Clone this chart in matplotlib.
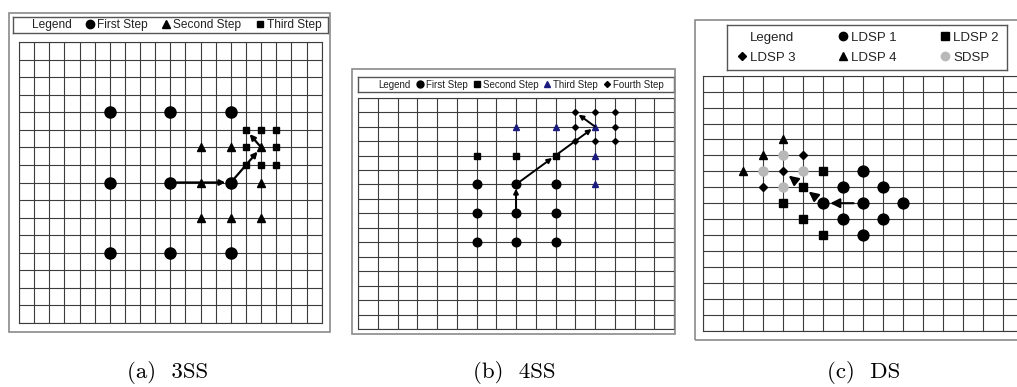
import matplotlib.pyplot as plt
from matplotlib.lines import Line2D
from matplotlib.patches import Rectangle

# search points on the block grid, (column, row) counted from the top-left corner
# (a) three step search
a_first_x = [6, 10, 14, 6, 10, 14, 6, 10, 14]
a_first_y = [4, 4, 4, 8, 8, 8, 12, 12, 12]
a_second_x = [12, 14, 16, 12, 16, 12, 14, 16]
a_second_y = [6, 6, 6, 8, 8, 10, 10, 10]
a_third_x = [15, 16, 17, 15, 17, 15, 16, 17]
a_third_y = [5, 5, 5, 6, 6, 7, 7, 7]
a_path = [(10, 8), (14, 8), (16, 6), (15, 5)]

# (b) four step search
b_first_x = [6, 8, 10, 6, 8, 10, 6, 8, 10]
b_first_y = [6, 6, 6, 8, 8, 8, 10, 10, 10]
b_second_x = [6, 8, 10]
b_second_y = [4, 4, 4]
b_third_x = [8, 10, 12, 12, 12]
b_third_y = [2, 2, 2, 4, 6]
b_fourth_x = [11, 12, 13, 11, 13, 11, 12, 13]
b_fourth_y = [1, 1, 1, 2, 2, 3, 3, 3]
b_path = [(8, 8), (8, 6), (10, 4), (12, 2), (11, 1)]

# (c) diamond search
c_ldsp1_x = [8, 7, 9, 6, 8, 10, 7, 9, 8]
c_ldsp1_y = [6, 7, 7, 8, 8, 8, 9, 9, 10]
c_ldsp2_x = [6, 5, 4, 5, 6]
c_ldsp2_y = [6, 7, 8, 9, 10]
c_ldsp3_x = [5, 4, 3]
c_ldsp3_y = [5, 6, 7]
c_ldsp4_x = [4, 3, 2]
c_ldsp4_y = [4, 5, 6]
c_sdsp_x = [4, 3, 5, 4]
c_sdsp_y = [5, 6, 6, 7]
c_path = [(8, 8), (6, 8), (5, 7), (4, 6)]

captions = ['(a)  3SS', '(b)  4SS', '(c)  DS']

W, H = 1017, 387
fig = plt.figure(figsize=(W / 100, H / 100), dpi=100)
plt.rcParams['font.family'] = 'Liberation Sans'

GRID_C = '#3c3c3c'
NAVY = '#1c1c80'
GREY = '#b8b8b8'


def px_axes(x0, y0, x1, y1):
    return fig.add_axes([x0 / W, 1 - y1 / H, (x1 - x0) / W, (y1 - y0) / H])


def frame(x0, y0, x1, y1):
    fig.add_artist(Rectangle((x0 / W, 1 - y1 / H), (x1 - x0) / W, (y1 - y0) / H,
                             transform=fig.transFigure, fill=False,
                             ec='#8a8a8a', lw=1.2))


def grid_axes(box, ncols, nrows):
    ax = px_axes(*box)
    ax.set_xlim(0, ncols)
    ax.set_ylim(nrows, 0)
    ax.set_xticks(range(ncols + 1))
    ax.set_yticks(range(nrows + 1))
    ax.grid(True, color=GRID_C, lw=0.8)
    ax.tick_params(length=0, labelbottom=False, labelleft=False)
    for s in ax.spines.values():
        s.set_color(GRID_C)
        s.set_linewidth(0.8)
    return ax


def legend_box(box, handles, labels, ncol, size, **kw):
    ax = px_axes(*box)
    ax.set_xticks([])
    ax.set_yticks([])
    for s in ax.spines.values():
        s.set_color('#555555')
        s.set_linewidth(1.0)
    leg = ax.legend(handles, labels, loc='center', ncol=ncol, frameon=False,
                    fontsize=size, handlelength=0.9, handletextpad=0.15,
                    borderpad=0, borderaxespad=0, **kw)
    for t in leg.get_texts():
        t.set_color('#222222')
    return ax


def mk(marker, ms, color='black'):
    return Line2D([], [], ls='none', marker=marker, ms=ms, color=color, mec=color)


blank = Line2D([], [], ls='none', marker='none')


def draw_path(ax, path, lw, scale, shrink_a, shrink_b):
    for (x0, y0), (x1, y1) in zip(path[:-1], path[1:]):
        ax.annotate('', xy=(x1, y1), xytext=(x0, y0),
                    arrowprops=dict(arrowstyle='-|>', color='black', lw=lw,
                                    mutation_scale=scale, shrinkA=shrink_a,
                                    shrinkB=shrink_b))


# ---- (a) 3SS
frame(9, 13, 330, 332)
legend_box((13, 17, 328, 33),
           [blank, mk('o', 6), mk('^', 6), mk('s', 4.5)],
           ['Legend', 'First Step', 'Second Step', 'Third Step'], 4, 8.6,
           columnspacing=1.1)
ax = grid_axes((19, 42.3, 321.7, 322.7), 20, 16)
ax.plot(a_first_x, a_first_y, 'o', color='black', ms=8, zorder=3)
ax.plot(a_second_x, a_second_y, '^', color='black', ms=6, zorder=3)
ax.plot(a_third_x, a_third_y, 's', color='black', ms=5, zorder=3)
draw_path(ax, a_path, 1.6, 8, 0, 4)

# ---- (b) 4SS
frame(352, 69, 675, 334)
legend_box((358, 77, 674, 92),
           [blank, mk('o', 5), mk('s', 4.5), mk('^', 5, NAVY), mk('D', 3)],
           ['Legend', 'First Step', 'Second Step', 'Third Step', 'Fourth Step'],
           5, 7.0, columnspacing=0.5)
ax = grid_axes((358, 97.7, 674, 329), 16, 16)
ax.plot(b_first_x, b_first_y, 'o', color='black', ms=6.2, zorder=3)
ax.plot(b_second_x, b_second_y, 's', color='black', ms=4.5, zorder=3)
ax.plot(b_third_x, b_third_y, '^', color=NAVY, ms=5, zorder=3)
ax.plot(b_fourth_x, b_fourth_y, 'D', color='black', ms=3, zorder=3)
draw_path(ax, b_path, 1.4, 7, 0, 3)

# ---- (c) DS
frame(695, 20, 1040, 340)
legend_box((727.3, 25, 1007.3, 70),
           [blank, mk('D', 4.5), mk('o', 6), mk('^', 6), mk('s', 6), mk('o', 6, GREY)],
           ['Legend', 'LDSP 3', 'LDSP 1', 'LDSP 4', 'LDSP 2', 'SDSP'],
           3, 9.5, columnspacing=3.2, labelspacing=0.6)
ax = grid_axes((703.3, 75.7, 1023.3, 330.7), 16, 16)
ax.plot(c_ldsp1_x, c_ldsp1_y, 'o', color='black', ms=7.8, zorder=3)
ax.plot(c_ldsp2_x, c_ldsp2_y, 's', color='black', ms=5.5, zorder=3)
ax.plot(c_ldsp3_x, c_ldsp3_y, 'D', color='black', ms=4, zorder=3)
ax.plot(c_ldsp4_x, c_ldsp4_y, '^', color='black', ms=5.5, zorder=3)
ax.plot(c_sdsp_x, c_sdsp_y, 'o', color=GREY, ms=6.5, zorder=3)
draw_path(ax, c_path, 1.5, 14, 7, 5)

# ---- captions
for cx, txt in zip([168, 514, 864], captions):
    fig.text(cx / W, 1 - 372 / H, txt, family='cmr10', size=16.5,
             ha='center', va='center')

fig.savefig('out.png', dpi=100)
